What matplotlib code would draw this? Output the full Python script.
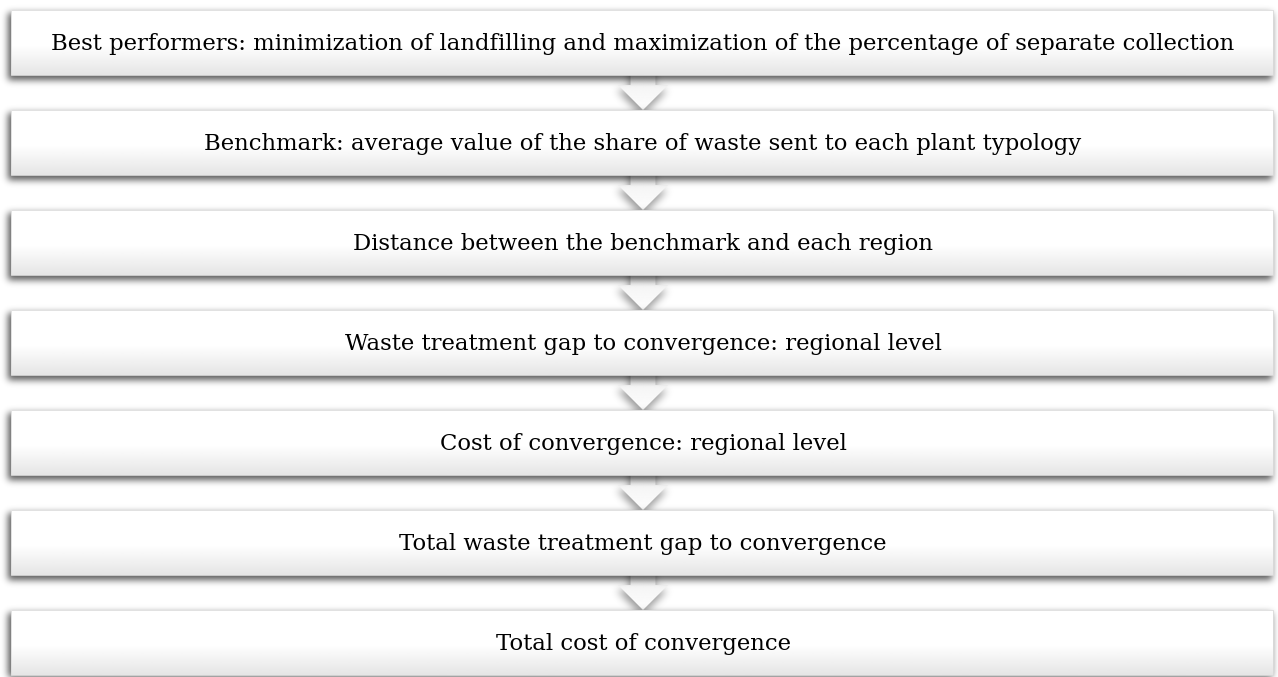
import numpy as np
import matplotlib
matplotlib.use("Agg")
import matplotlib.pyplot as plt
from matplotlib.patches import Rectangle, Polygon
from matplotlib.path import Path

# steps of the flow, top to bottom
steps = [
    "Best performers: minimization of landfilling and maximization of the percentage of separate collection",
    "Benchmark: average value of the share of waste sent to each plant typology",
    "Distance between the benchmark and each region",
    "Waste treatment gap to convergence: regional level",
    "Cost of convergence: regional level",
    "Total waste treatment gap to convergence",
    "Total cost of convergence",
]

W, H = 1278, 677
X0, X1 = 11, 1273
TOP0, STEP, BOX_H = 10, 100, 65
CX = 643


def blur(a, sigma):
    # separable gaussian blur with numpy only
    r = int(3 * sigma)
    k = np.exp(-0.5 * (np.arange(-r, r + 1) / sigma) ** 2)
    k /= k.sum()
    a = np.apply_along_axis(lambda v: np.convolve(v, k, mode="same"), 0, a)
    a = np.apply_along_axis(lambda v: np.convolve(v, k, mode="same"), 1, a)
    return a


def arrow_verts(top):
    return [(CX - 12.5, top + 50), (CX + 12.5, top + 50), (CX + 12.5, top + 75),
            (CX + 25, top + 75), (CX, top + 100), (CX - 25, top + 75),
            (CX - 12.5, top + 75)]


fig = plt.figure(figsize=(W / 100, H / 100), dpi=100)
ax = fig.add_axes([0, 0, 1, 1])
ax.set_xlim(0, W)
ax.set_ylim(H, 0)
ax.axis("off")

yy, xx = np.mgrid[0:H, 0:W] + 0.5
pts = np.column_stack([xx.ravel(), yy.ravel()])

# arrow shadows
amask = np.zeros((H, W))
for i in range(len(steps) - 1):
    top = TOP0 + STEP * i
    p = Path([(x - 1, y + 5) for x, y in arrow_verts(top)] + [(0, 0)], closed=True)
    amask += p.contains_points(pts).reshape(H, W)
amask = blur(np.clip(amask, 0, 1), 4)
ashadow = np.zeros((H, W, 4))
ashadow[..., 3] = amask * 0.4
ax.imshow(ashadow, extent=(0, W, H, 0), zorder=1, interpolation="bilinear")

# arrows with a light gradient
grad_a = np.linspace(0.93, 0.99, 64).reshape(-1, 1)
for i in range(len(steps) - 1):
    top = TOP0 + STEP * i
    poly = Polygon(arrow_verts(top), closed=True, facecolor="none", edgecolor="none")
    ax.add_patch(poly)
    im = ax.imshow(np.repeat(grad_a, 2, axis=1), cmap="gray", vmin=0, vmax=1,
                   extent=(CX - 25, CX + 25, top + 100, top + 50), zorder=2,
                   aspect="auto", interpolation="bilinear")
    im.set_clip_path(poly)

# box shadows
bmask = np.zeros((H, W))
for i in range(len(steps)):
    top = TOP0 + STEP * i
    y0, y1 = top + 3, top + BOX_H + 5
    bmask[int(y0):int(y1), X0 - 3:X1 - 1] = 1
bmask = blur(bmask, 3.5)
bshadow = np.zeros((H, W, 4))
bshadow[..., 3] = bmask * 0.65
ax.imshow(bshadow, extent=(0, W, H, 0), zorder=3, interpolation="bilinear")

# boxes with white -> light grey gradient
g = np.concatenate([np.ones(35), np.linspace(1.0, 0.9, 30)]).reshape(-1, 1)
for i, label in enumerate(steps):
    top = TOP0 + STEP * i
    ax.imshow(np.repeat(g, 2, axis=1), cmap="gray", vmin=0, vmax=1,
              extent=(X0, X1, top + BOX_H, top), zorder=4, aspect="auto",
              interpolation="bilinear")
    ax.add_patch(Rectangle((X0, top), X1 - X0, BOX_H, facecolor="none",
                           edgecolor="#dcdcdc", linewidth=0.6, zorder=5))
    ax.text(CX, top + 40, label, ha="center", va="baseline",
            family="DejaVu Serif", fontsize=16.4, color="#000000", zorder=6)

ax.set_xlim(0, W)
ax.set_ylim(H, 0)
fig.savefig("out.png", dpi=100)
